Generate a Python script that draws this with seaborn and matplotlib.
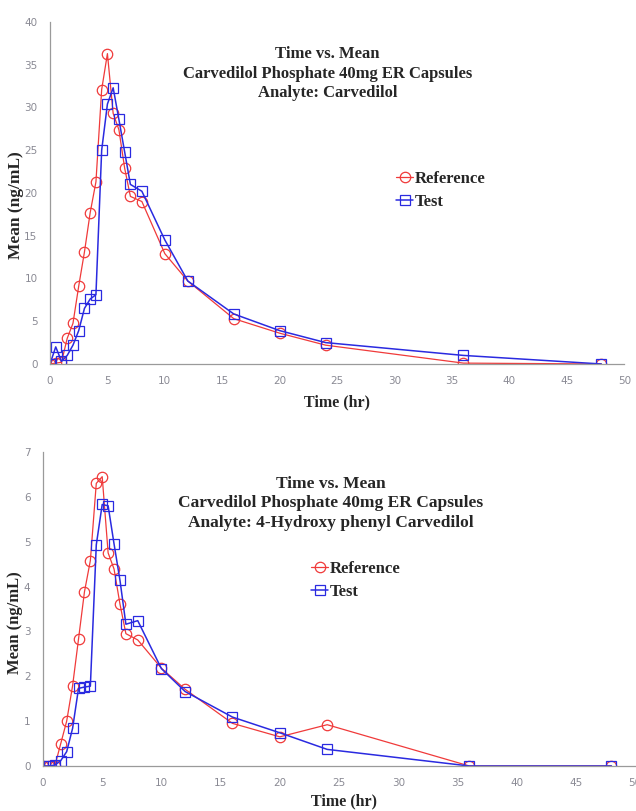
import matplotlib
matplotlib.use("Agg")
import matplotlib.pyplot as plt
import seaborn as sns
import pandas as pd

# ---- data ----
time_hr = [0, 0.5, 1, 1.5, 2, 2.5, 3, 3.5, 4, 4.5, 5, 5.5, 6, 6.5, 7, 8, 10, 12, 16, 20, 24, 36, 48]

carv_reference = [0, 0.1, 0.2, 3.0, 4.75, 9.1, 13.1, 17.7, 21.3, 32.1, 36.3, 29.3, 27.4, 22.9,
                  19.6, 19.0, 12.9, 9.7, 5.3, 3.6, 2.2, 0.1, 0]
carv_test = [0, 2.0, 0.3, 1.0, 2.2, 3.9, 6.5, 7.6, 8.1, 25.0, 30.4, 32.3, 28.6, 24.8,
             21.0, 20.2, 14.5, 9.7, 5.85, 3.9, 2.5, 1.0, 0]

hydroxy_reference = [0, 0, 0, 0.5, 1.0, 1.79, 2.83, 3.88, 4.58, 6.30, 6.45, 4.75, 4.39, 3.61,
                     2.95, 2.81, 2.18, 1.71, 0.95, 0.65, 0.92, 0, 0]
hydroxy_test = [0, 0, 0.02, 0.12, 0.32, 0.84, 1.73, 1.76, 1.78, 4.93, 5.83, 5.80, 4.95, 4.14,
                3.16, 3.24, 2.17, 1.66, 1.09, 0.74, 0.37, 0, 0]

series_names = ["Reference", "Test"]
titles = [
    "Time vs. Mean\nCarvedilol Phosphate 40mg ER Capsules\nAnalyte: Carvedilol",
    "Time vs. Mean\nCarvedilol Phosphate 40mg ER Capsules\nAnalyte: 4-Hydroxy phenyl Carvedilol",
]
x_label = "Time (hr)"
y_label = "Mean (ng/mL)"
x_ticks = [0, 5, 10, 15, 20, 25, 30, 35, 40, 45, 50]
y_ticks_top = [0, 5, 10, 15, 20, 25, 30, 35, 40]
y_ticks_bottom = [0, 1, 2, 3, 4, 5, 6, 7]

# ---- style ----
sns.set_theme(style="white")
plt.rcParams["font.family"] = ["DejaVu Sans"]

RED = "#f03a3a"
BLUE = "#2a2ae0"
TICK_COLOR = "#8a8a94"
serif = ["Liberation Serif", "DejaVu Serif"]

fig = plt.figure(figsize=(6.36, 8.11), dpi=100)
fig.patch.set_facecolor("white")

ax_top = fig.add_axes([0.0786, 0.5512, 0.903, 0.4217])
ax_bot = fig.add_axes([0.0676, 0.0555, 0.931, 0.3872])

def draw(ax, ref, test, yticks, title, title_xy, title_size, legend_xy,
         ylab_size, ylab_xy, xlab_xy):
    df = pd.DataFrame({"t": time_hr * 2,
                       "v": list(ref) + list(test),
                       "s": [series_names[0]] * len(time_hr) + [series_names[1]] * len(time_hr)})
    sns.lineplot(data=df[df.s == "Reference"], x="t", y="v", ax=ax, color=RED, lw=0.9,
                 marker="o", markersize=7.5, markerfacecolor="none", markeredgecolor=RED,
                 markeredgewidth=0.9, label="Reference", estimator=None, sort=False)
    sns.lineplot(data=df[df.s == "Test"], x="t", y="v", ax=ax, color=BLUE, lw=1.1,
                 marker="s", markersize=6.5, markerfacecolor="none", markeredgecolor=BLUE,
                 markeredgewidth=0.9, label="Test", estimator=None, sort=False)
    ax.set_xlim(0, 50)
    ax.set_ylim(yticks[0], yticks[-1])
    ax.set_xticks(x_ticks)
    ax.set_yticks(yticks)
    ax.set_xticklabels([str(v) for v in x_ticks])
    ax.set_yticklabels([str(v) for v in yticks])
    ax.tick_params(axis="both", labelsize=7.5, colors=TICK_COLOR, labelcolor=TICK_COLOR)
    ax.tick_params(axis="x", direction="inout", length=5, width=0.8, pad=6)
    ax.tick_params(axis="y", direction="out", length=3, width=0.8, pad=6)
    for s in ["top", "right"]:
        ax.spines[s].set_visible(False)
    for s in ["left", "bottom"]:
        ax.spines[s].set_color("#9a9a9a")
        ax.spines[s].set_linewidth(0.9)
    ax.set_xlabel(x_label, fontsize=11.5, fontweight="bold", family=serif)
    ax.set_ylabel(y_label, fontsize=ylab_size, fontweight="bold", family=serif)
    ax.xaxis.set_label_coords(*xlab_xy)
    ax.yaxis.set_label_coords(*ylab_xy)
    ax.text(title_xy[0], title_xy[1], title, transform=ax.transAxes, ha="center", va="top",
            fontsize=title_size, fontweight="bold", family=serif, linespacing=1.3)
    ax.legend(loc="upper left", bbox_to_anchor=legend_xy, frameon=False,
              prop={"family": serif, "weight": "bold", "size": 12},
              handlelength=1.0, handletextpad=0.1, labelspacing=0.4, borderpad=0,
              borderaxespad=0)
    ax.set_facecolor("white")

draw(ax_top, carv_reference, carv_test, y_ticks_top, titles[0],
     (0.483, 0.93), 12, (0.603, 0.564), 12.5, (-0.0445, 0.465), (0.5, -0.088))
draw(ax_bot, hydroxy_reference, hydroxy_test, y_ticks_bottom, titles[1],
     (0.486, 0.925), 12.5, (0.453, 0.653), 12, (-0.034, 0.455), (0.508, -0.086))

fig.savefig("out.png", dpi=100)
